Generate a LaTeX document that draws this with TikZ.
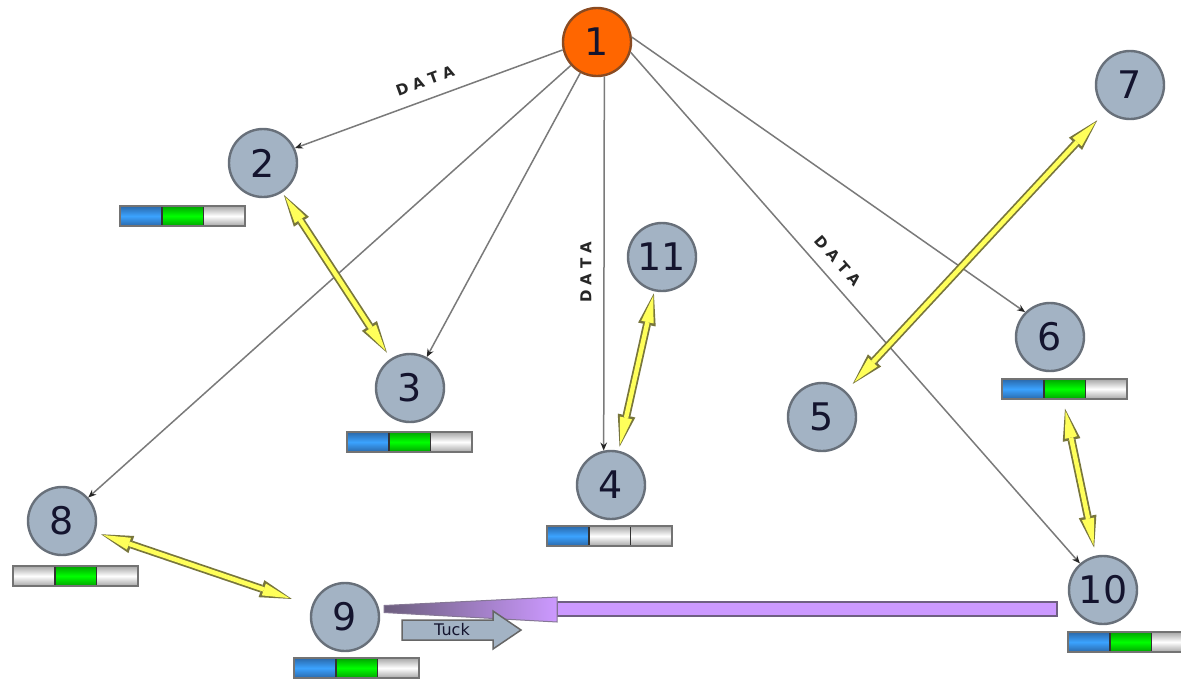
\documentclass[tikz,border=0pt]{standalone}
\usepackage{fontspec}
\setmainfont{DejaVu Sans}
\usetikzlibrary{arrows.meta,calc}

\definecolor{nodefill}{HTML}{A3B3C4}
\definecolor{nodeline}{HTML}{68707A}
\definecolor{hubfill}{HTML}{FF6600}
\definecolor{hubline}{HTML}{8A4B22}
\definecolor{linkgray}{HTML}{7A7A7A}
\definecolor{hlfill}{HTML}{FFFF5A}
\definecolor{hlline}{HTML}{78763C}
\definecolor{lav}{HTML}{CC99FF}
\definecolor{lavline}{HTML}{6F5F82}
\definecolor{lavdark}{HTML}{6C5E7E}
\definecolor{digit}{HTML}{14142E}
\definecolor{barblue}{HTML}{3BA3FF}
\definecolor{barblueD}{HTML}{2A68AA}
\definecolor{bargreen}{HTML}{00FF00}
\definecolor{bargreenD}{HTML}{00A300}

% highlighted two-way link: olive outline under a yellow core
\newcommand\hilink[4]{%
  \draw[hlout, shorten <=#3, shorten >=#4] (#1) -- (#2);
  \draw[hlin, shorten <=#3+2.5pt, shorten >=#4+2.5pt] (#1) -- (#2);}

% three-cell status bar with its top-left corner at (#1,#2)
\newcommand\statbar[5]{%
  \path[#3] (#1,#2) rectangle ++(41.7,20);
  \path[#4] (#1+41.7,#2) rectangle ++(41.7,20);
  \path[#5] (#1+83.4,#2) rectangle ++(41.6,20);
  \draw[barsep] (#1+41.7,#2) -- ++(0,20);
  \draw[barsep] (#1+83.4,#2) -- ++(0,20);
  \draw[barframe] (#1,#2) rectangle ++(125,20);}

% spaced edge label
\newcommand\dataword{D\kern5pt A\kern5pt T\kern5pt A}

\begin{document}
\begin{tikzpicture}[x=1pt,y=-1pt,
  peer/.style={circle, draw=nodeline, fill=nodefill, line width=2.4pt,
    minimum size=68pt, inner sep=0pt, text=digit,
    font=\fontsize{38}{40}\selectfont},
  hub/.style={peer, draw=hubline, fill=hubfill},
  link/.style={draw=linkgray, line width=1.5pt,
    -{Stealth[length=8pt,width=6.5pt,color=black!85]}},
  tag/.style={font=\bfseries\fontsize{15}{15}\selectfont, text=black!85, inner sep=0pt},
  hlout/.style={draw=hlline, line width=8pt,
    {Triangle[length=32pt,width=18pt,line width=0pt]}-{Triangle[length=32pt,width=18pt,line width=0pt]}},
  hlin/.style={draw=hlfill, line width=4.5pt,
    {Triangle[length=27pt,width=12.5pt,line width=0pt]}-{Triangle[length=27pt,width=12.5pt,line width=0pt]}},
  segB/.style={top color=barblueD, bottom color=barblueD, middle color=barblue},
  segG/.style={top color=bargreenD, bottom color=bargreenD, middle color=bargreen},
  segW/.style={top color=black!35, bottom color=black!35, middle color=white},
  barsep/.style={draw=black!80, line width=1.6pt},
  barframe/.style={draw=black!55, line width=1.2pt},
]
\useasboundingbox (0,0) rectangle (1181,678);
\fill[white] (0,0) rectangle (1181,678);

% peers
\node[hub]  (n1)  at (597,42)  {1};
\node[peer] (n2)  at (263,163) {2};
\node[peer] (n3)  at (410,388) {3};
\node[peer] (n4)  at (611,485) {4};
\node[peer] (n5)  at (822,417) {5};
\node[peer] (n6)  at (1050,337) {6};
\node[peer] (n7)  at (1130,85) {7};
\node[peer] (n8)  at (62,521)  {8};
\node[peer] (n9)  at (345,617) {9};
\node[peer] (n10) at (1103,590) {10};
\node[peer] (n11) at (662,257) {11};

% data links from the source
\draw[link] (n1.193) -- (n2.25);
\draw[link] (n1) -- (n3);
\draw[link] (n1) -- (n8);
\draw[link] (n1.-78) -- (n4.102);
\draw[link] (n1.8) -- (n6.135);
\draw[link] (n1.-17) -- (n10.131);

\node[tag, rotate=20]    (d12)  at (425,81)  {\dataword};
\node[tag, rotate=90]    (d14)  at (586,272) {\dataword};
\node[tag, rotate=-48.5] (d110) at (838,261) {\dataword};

% neighbour exchanges
\hilink{n2}{n3}{3pt}{7pt}
\hilink{n11}{n4}{2pt}{4pt}
\hilink{n7}{n5}{13pt}{10pt}
\hilink{n6}{n10}{38pt}{8pt}
\hilink{n8}{n9}{6pt}{21pt}

% status bars
\statbar{120}{206}{segB}{segG}{segW}
\statbar{347}{432}{segB}{segG}{segW}
\statbar{547}{526}{segB}{segW}{segW}
\statbar{1002}{379}{segB}{segG}{segW}
\statbar{13}{566}{segW}{segG}{segW}
\statbar{294}{658}{segB}{segG}{segW}
\statbar{1068}{632}{segB}{segG}{segW}

% transfer from 10 back to 9
\coordinate (ptail) at (1057,609);
\coordinate (pbase) at (557,609);
\coordinate (ptip)  at (384,609);
\draw[lavline, fill=lav, line width=2pt] ($(pbase)+(0,-7)$) rectangle ($(ptail)+(0,7)$);
\path[left color=lavdark, right color=lav, draw=lavline!85, line width=1pt]
  ($(pbase)+(0,-12)$) -- ($(ptip)+(0,-3.5)$) -- ($(ptip)+(0,3.5)$) -- ($(pbase)+(0,13)$) -- cycle;

% task marker
\draw[fill=nodefill, draw=black!60, line width=1.5pt]
  (402,620) -- (493,620) -- (493,611) -- (521,630) -- (493,649) -- (493,640) -- (402,640) -- cycle;
\node[text=digit, font=\fontsize{16}{16}\selectfont, inner sep=0pt] (tuck) at (452,630) {Tuck};
\end{tikzpicture}
\end{document}
